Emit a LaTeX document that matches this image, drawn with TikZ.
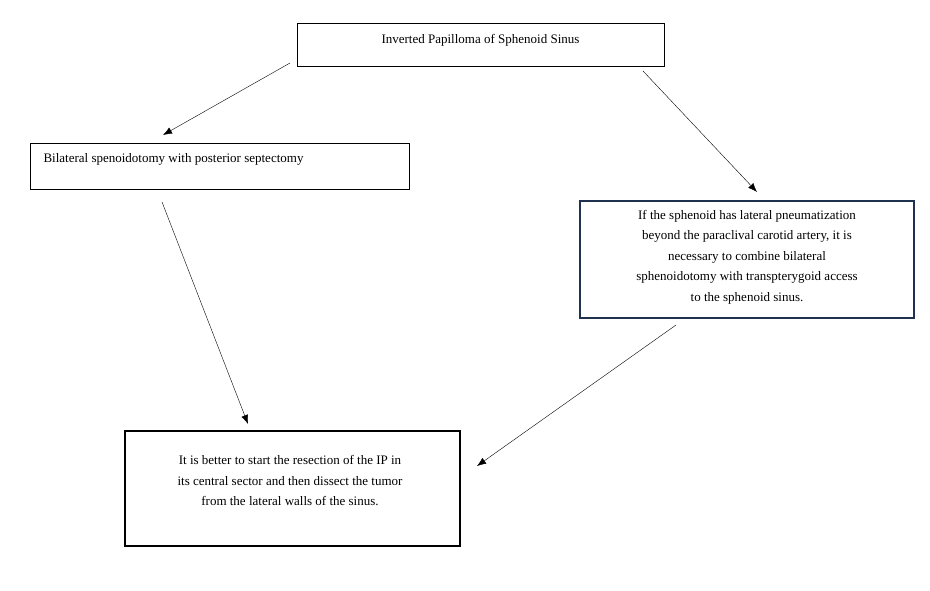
\documentclass[tikz,border=0pt]{standalone}
\usepackage{fontspec}
\setmainfont{Liberation Serif}
\usetikzlibrary{positioning,arrows.meta}
\definecolor{boxblue}{HTML}{1F3350}
\tikzset{
    stepBox/.style={draw, thin, inner sep=0pt},
    flowArrow/.style={-{Latex[length=9pt,width=7pt]}, thin}
}
\begin{document}
\begin{tikzpicture}[x=1pt,y=-1pt,font=\fontsize{13}{20.5}\selectfont]
    \useasboundingbox (0,0) rectangle (930,591);
    % boxes
    \draw[stepBox] (297,23) rectangle (664,66);
    \node (papilloma) at (480.5,40) {Inverted Papilloma of Sphenoid Sinus};
    \draw[stepBox] (30,143) rectangle (409,189);
    \node[anchor=west] (bilateral) at (40,159) {Bilateral spenoidotomy with posterior septectomy};
    \draw[draw=boxblue, line width=1.6pt] (580,201) rectangle (914,318);
    \node[align=center] (lateral) at (747,257) {If the sphenoid has lateral pneumatization\\beyond the paraclival carotid artery, it is\\necessary to combine bilateral\\sphenoidotomy with transpterygoid access\\to the sphenoid sinus.};
    \draw[line width=1.6pt] (125,431) rectangle (460,546);
    \node[align=center] (resection) at (290,481) {It is better to start the resection of the IP in\\its central sector and then dissect the tumor\\from the lateral walls of the sinus.};
    % arrows
    \coordinate (a1) at (290,63);  \coordinate (b1) at (163,135);
    \coordinate (a2) at (643,71);  \coordinate (b2) at (757,192);
    \coordinate (a3) at (162,202); \coordinate (b3) at (248,424);
    \coordinate (a4) at (676,325); \coordinate (b4) at (477,466);
    \draw[flowArrow] (a1) -- (b1);
    \draw[flowArrow] (a2) -- (b2);
    \draw[flowArrow] (a3) -- (b3);
    \draw[flowArrow] (a4) -- (b4);
\end{tikzpicture}
\end{document}
